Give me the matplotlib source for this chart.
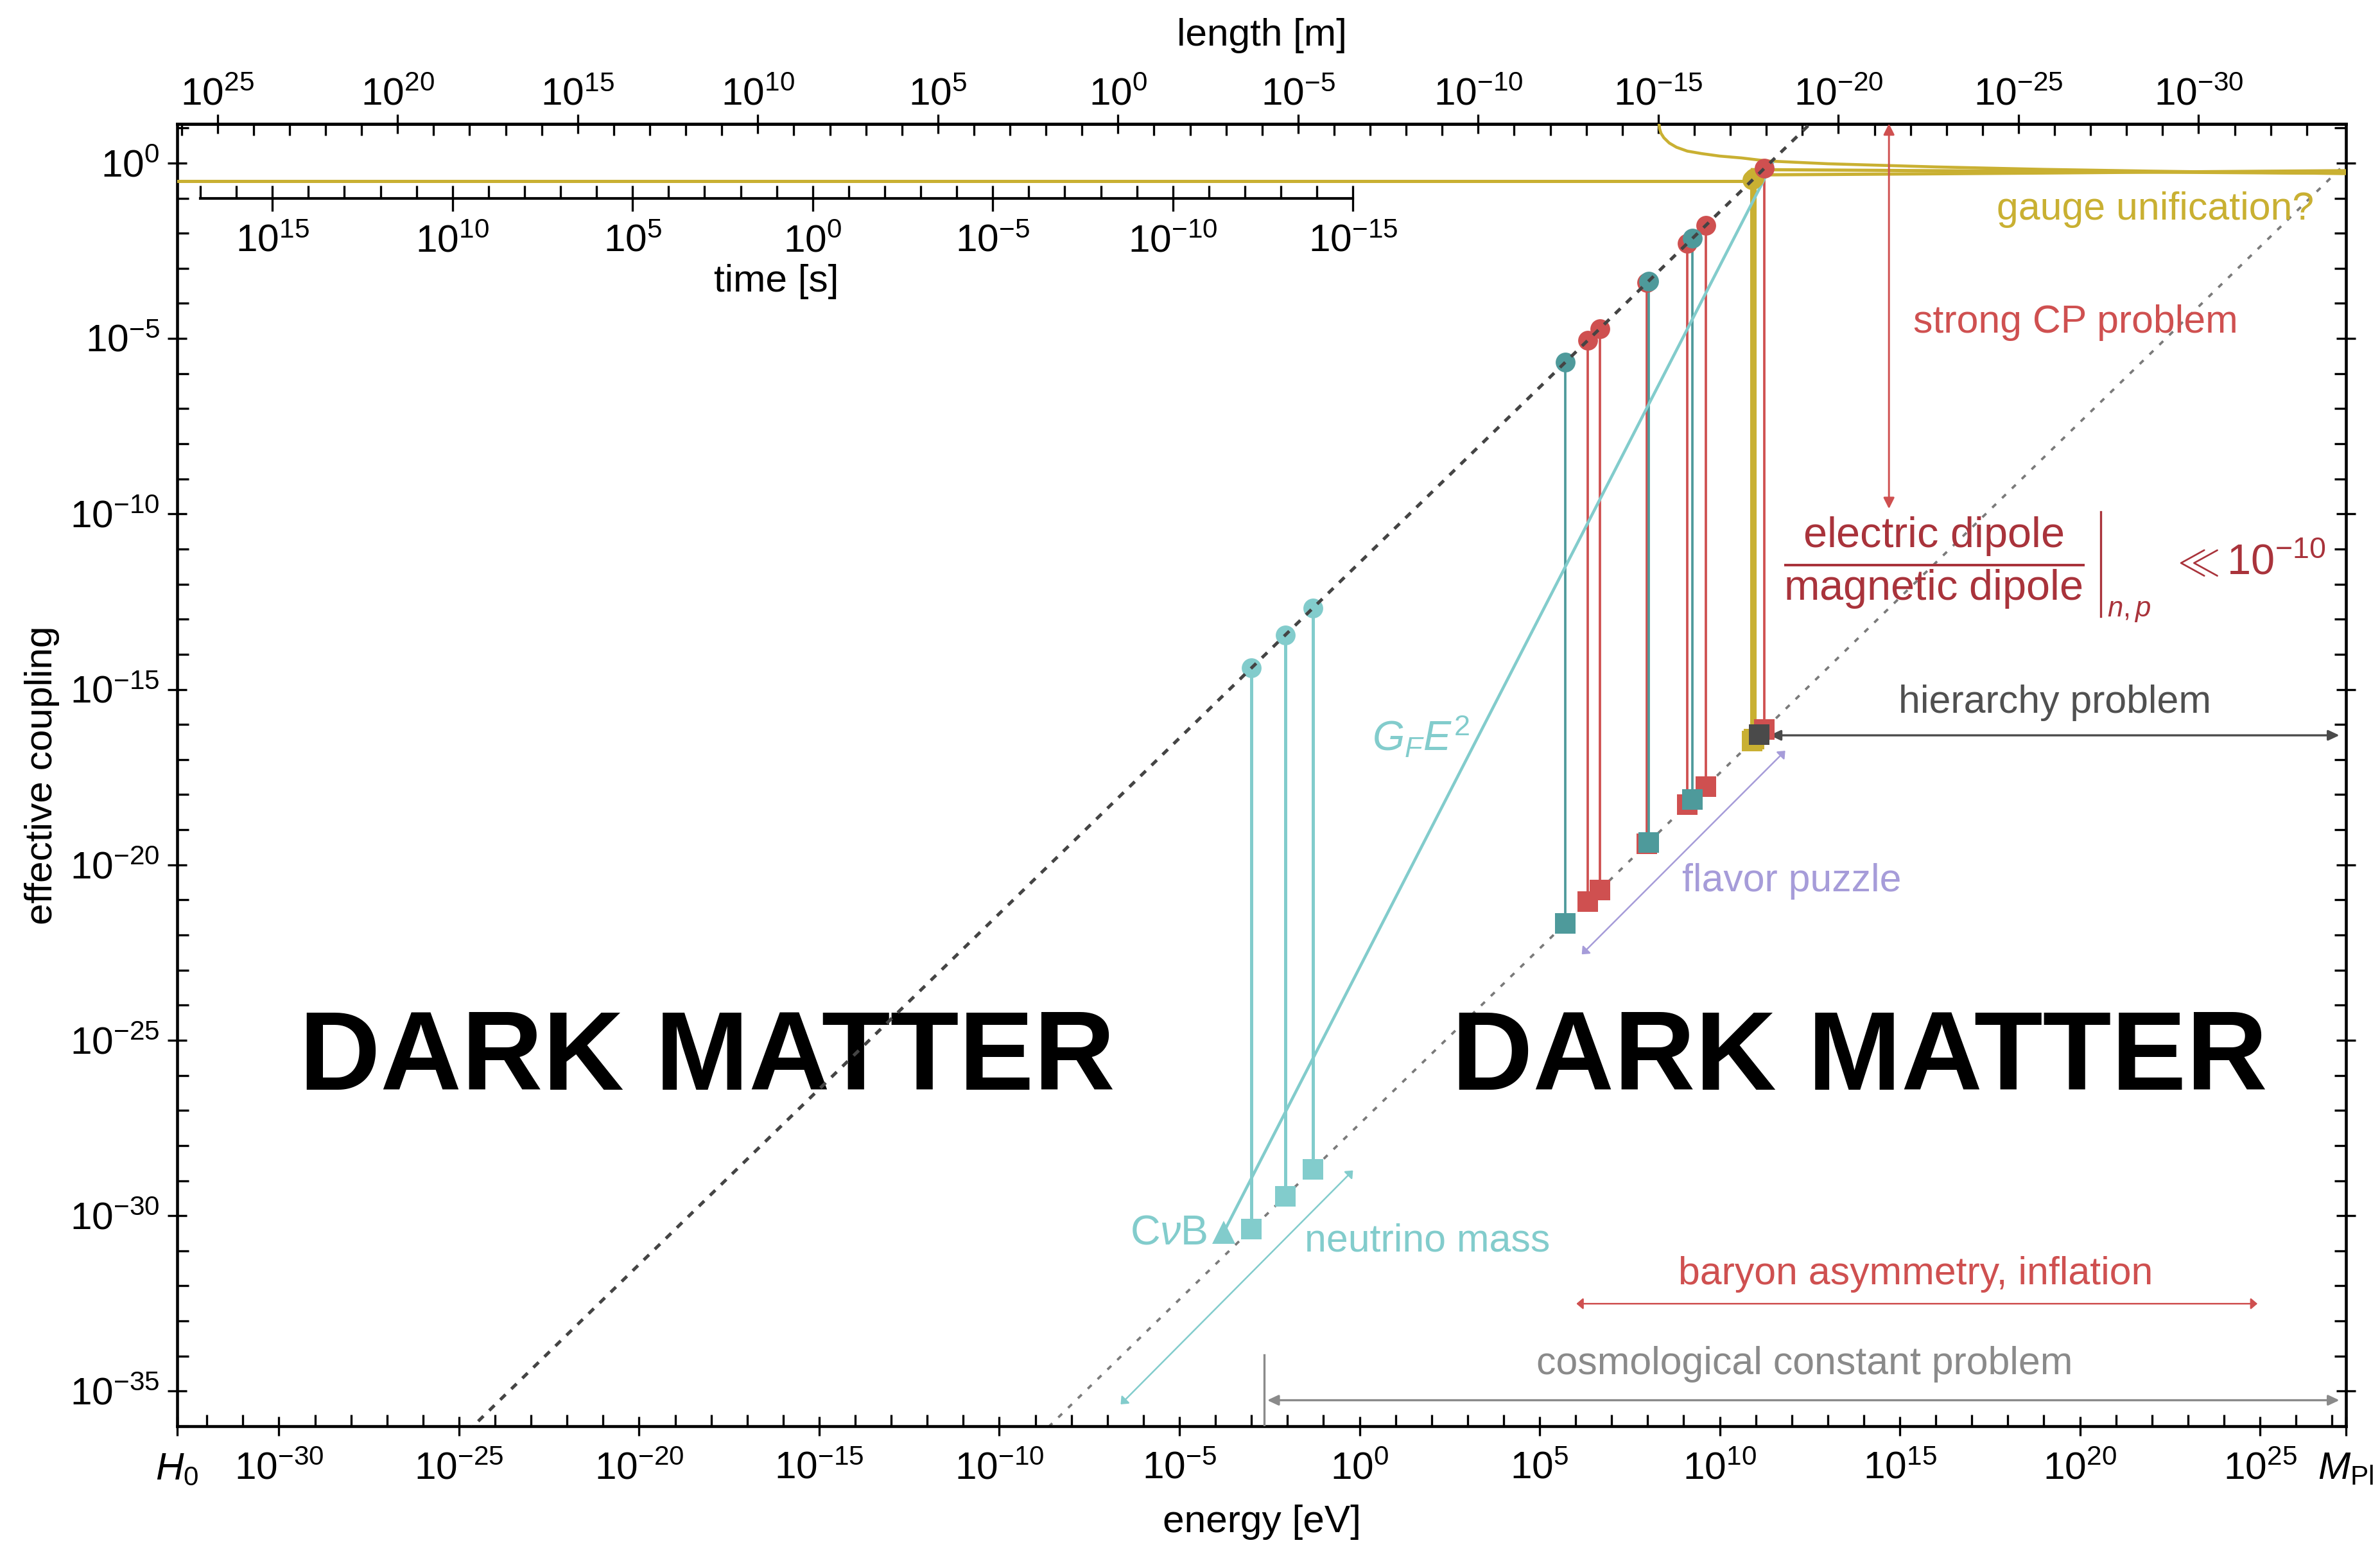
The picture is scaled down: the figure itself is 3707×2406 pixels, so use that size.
import numpy as np
import matplotlib
matplotlib.use('Agg')
import matplotlib.pyplot as plt
from matplotlib.ticker import FixedLocator, NullFormatter

plt.rcParams['font.family'] = ['Liberation Sans', 'DejaVu Sans']
plt.rcParams['mathtext.fontset'] = 'custom'
plt.rcParams['mathtext.rm'] = 'Liberation Sans'
plt.rcParams['mathtext.it'] = 'Liberation Sans:italic'
plt.rcParams['mathtext.bf'] = 'Liberation Sans:bold'
plt.rcParams['mathtext.sf'] = 'Liberation Sans'

# ---------------- data (energies in eV) ----------------
E_H0 = 1.5e-33
E_MPL = 2.435e27
C_MIN, C_MAX = 1.0e-36, 13.3
HBAR_C = 1.9733e-7   # eV m  (length axis)
HBAR = 6.582e-16     # eV s  (time axis)
T_START, T_END = 1e17, 1e-15
T_AXIS_COUPLING = 0.1

# charged leptons: mass, Yukawa-like coupling, gravitational coupling
lepton_E = [0.511e6, 105.7e6, 1.777e9]
lepton_yuk = [2.08e-6, 4.30e-4, 7.22e-3]
lepton_grav = [2.10e-22, 4.34e-20, 7.30e-19]
# quarks
quark_E = [2.2e6, 4.7e6, 95e6, 1.27e9, 4.18e9, 172.7e9]
quark_yuk = [8.9e-6, 1.91e-5, 3.86e-4, 5.16e-3, 1.70e-2, 0.702]
quark_grav = [9.0e-22, 1.93e-21, 3.90e-20, 5.22e-19, 1.72e-18, 7.09e-17]
# neutrinos
nu_E = [1.0e-3, 8.6e-3, 5.0e-2]
nu_yuk = [4.07e-15, 3.50e-14, 2.03e-13]
nu_grav = [4.11e-31, 3.53e-30, 2.05e-29]
# W, Z bosons
wz_E = [80.4e9, 91.2e9]
wz_yuk = [0.327, 0.371]
wz_grav = [3.30e-17, 3.75e-17]
# Higgs
higgs_E = [125.1e9]
higgs_grav = [5.14e-17]
# cosmic neutrino background
cnub_E = [1.68e-4]
cnub_c = [3.3e-31]
# Fermi interaction G_F E^2
gf_E = [1.68e-4, 2.93e11]
gf_c = [3.3e-31, 1.0]
# guide lines E/v and E/M_Pl
ev_E = [1e-26, 1e14]
ev_c = [4.07e-38, 407.0]
emp_E = [1e-10, 1e28]
emp_c = [4.1e-38, 4.1]
# electromagnetic coupling below the EW scale
em_E = [1.5e-33, 80.4e9]
em_c = [0.303, 0.303]
# running gauge couplings
g1_E = [80.4e9, 1e13, 1e16, 1e19, 1e22, 1e25, 2.435e27]
g1_c = [0.460, 0.473, 0.495, 0.521, 0.552, 0.582, 0.605]
g2_E = [80.4e9, 1e13, 1e16, 1e19, 1e22, 1e25, 2.435e27]
g2_c = [0.650, 0.631, 0.605, 0.579, 0.553, 0.528, 0.511]
g3_E = [2.06e8, 2.14e8, 2.34e8, 2.82e8, 3.98e8, 6.31e8, 1.26e9, 3.16e9, 1e10,
        3.98e10, 2.0e11, 1e13, 1e16, 1e19, 1e22, 1e25, 2.435e27]
g3_c = [13.5, 9.55, 7.08, 5.25, 3.72, 2.82, 2.19, 1.86, 1.58,
        1.40, 1.15, 0.955, 0.776, 0.661, 0.589, 0.537, 0.501]

# arrows
strongcp_E = [5.0e14, 5.0e14]
strongcp_c = [13.3, 1.4e-10]
hier_E = [2.45e11, 1.6e27]
hier_c = [4.9e-17, 4.9e-17]
cosmo_E = [2.75e-3, 1.6e27]
cosmo_c = [5.5e-36, 5.5e-36]
cosmo_mark_E = [2.24e-3, 2.24e-3]
cosmo_mark_c = [1.0e-36, 1.07e-34]
flavor_E = [1.48e6, 6.6e11]
flavor_c = [2.8e-23, 1.78e-17]
numass_E = [2.34e-7, 0.66]
numass_c = [4.2e-36, 1.95e-29]
baryon_E = [1.05e6, 8.5e24]
baryon_c = [3.1e-33, 3.1e-33]
# evaluation bar of the dipole ratio
dipole_bar_E = [3.8e20, 3.8e20]
dipole_bar_c = [1.15e-10, 1.2e-13]

# ---------------- colors ----------------
C_TEAL = '#4E9A9B'
C_LTEAL = '#82CCCC'
C_RED = '#CF5050'
C_GOLD = '#C9B032'
C_DGRAY = '#4A4A4A'
C_LAV = '#A69CD9'
C_DRED = '#A9333B'
C_GRAY = '#8A8A8A'

fig = plt.figure(figsize=(3707 / 300, 2406 / 300), dpi=300)
ax = fig.add_axes([0.07445, 0.07689, 0.91125, 0.8431])
ax.set_xscale('log')
ax.set_yscale('log')
ax.set_xlim(E_H0, E_MPL)
ax.set_ylim(C_MIN, C_MAX)

# guide lines
ax.plot(emp_E, emp_c, color='#7A7A7A', lw=0.9, ls=(0, (2.2, 3.5)), zorder=2)
ax.plot(ev_E, ev_c, color='#444444', lw=1.2, ls=(0, (2.3, 2.5)), zorder=6)

# gauge couplings
ax.plot(em_E, em_c, color=C_GOLD, lw=1.2, zorder=3)
ax.plot(g1_E, g1_c, color=C_GOLD, lw=1.2, zorder=3)
ax.plot(g2_E, g2_c, color=C_GOLD, lw=1.2, zorder=3)
ax.plot(g3_E, g3_c, color=C_GOLD, lw=1.1, zorder=3)

# vertical connectors
for E, a, b in zip(quark_E, quark_yuk, quark_grav):
    ax.plot([E, E], [a, b], color=C_RED, lw=0.9, zorder=3)
for E, a, b in zip(lepton_E, lepton_yuk, lepton_grav):
    ax.plot([E, E], [a, b], color=C_TEAL, lw=0.9, zorder=3.1)
for E, a, b in zip(nu_E, nu_yuk, nu_grav):
    ax.plot([E, E], [a, b], color=C_LTEAL, lw=1.2, zorder=3)
for E, a, b in zip(wz_E, wz_yuk, wz_grav):
    ax.plot([E, E], [a, b], color=C_GOLD, lw=1.7, zorder=3)

# G_F E^2
ax.plot(gf_E, gf_c, color=C_LTEAL, lw=1.1, zorder=4)

# markers
ms_c, ms_s = 7.4, 7.8
ax.plot(quark_E, quark_yuk, 'o', ms=ms_c, color=C_RED, mec='none', zorder=5)
ax.plot(quark_E, quark_grav, 's', ms=ms_s, color=C_RED, mec='none', zorder=5)
ax.plot(lepton_E, lepton_yuk, 'o', ms=ms_c, color=C_TEAL, mec='none', zorder=5.1)
ax.plot(lepton_E, lepton_grav, 's', ms=ms_s, color=C_TEAL, mec='none', zorder=5.1)
ax.plot(nu_E, nu_yuk, 'o', ms=ms_c, color=C_LTEAL, mec='none', zorder=5)
ax.plot(nu_E, nu_grav, 's', ms=ms_s, color=C_LTEAL, mec='none', zorder=5)
ax.plot(wz_E, wz_yuk, 'o', ms=ms_c, color=C_GOLD, mec='none', zorder=4.9)
ax.plot(wz_E, wz_grav, 's', ms=ms_s, color=C_GOLD, mec='none', zorder=4.9)
ax.plot(higgs_E, higgs_grav, 's', ms=ms_s, color=C_DGRAY, mec='none', zorder=5.2)
ax.plot(cnub_E, cnub_c, '^', ms=8.5, color=C_LTEAL, mec='none', zorder=5)


def darrow(xs, ys, color, lw, hl, hw, ms=10, z=4):
    ax.annotate('', xy=(xs[1], ys[1]), xytext=(xs[0], ys[0]),
                arrowprops=dict(arrowstyle=f'<|-|>,head_length={hl},head_width={hw}',
                                color=color, lw=lw, shrinkA=0, shrinkB=0,
                                mutation_scale=ms),
                zorder=z)


darrow(strongcp_E, strongcp_c, C_RED, 0.7, 0.34, 0.17)
darrow(hier_E, hier_c, C_DGRAY, 0.8, 0.34, 0.16)
darrow(cosmo_E, cosmo_c, C_GRAY, 0.8, 0.34, 0.16)
ax.plot(cosmo_mark_E, cosmo_mark_c, color=C_GRAY, lw=0.8, zorder=4)
darrow(flavor_E, flavor_c, C_LAV, 0.6, 0.2, 0.17)
darrow(numass_E, numass_c, C_LTEAL, 0.6, 0.2, 0.17)
darrow(baryon_E, baryon_c, C_RED, 0.6, 0.2, 0.17)

# texts
fs = 14.6
ax.text(1.23e22, 0.0245, 'gauge unification?', color=C_GOLD, fontsize=fs, ha='center', va='baseline')
ax.text(7.6e19, 1.48e-5, 'strong CP problem', color=C_RED, fontsize=fs, ha='center', va='baseline')
ax.text(2.04e19, 2.14e-16, 'hierarchy problem', color='#505050', fontsize=fs, ha='center', va='baseline')
ax.text(1.02e12, 1.74e-21, 'flavor puzzle', color=C_LAV, fontsize=fs, ha='center', va='baseline')
ax.text(77.6, 9.8e-32, 'neutrino mass', color=C_LTEAL, fontsize=fs, ha='center', va='baseline')
ax.text(6.0e-5, 1.55e-31, r'C$\nu$B', color=C_LTEAL, fontsize=15.5, ha='right', va='baseline')
ax.text(51, 1.7e-17, r'$G_F E^2$', color=C_LTEAL, fontsize=15.5, ha='center', va='baseline')
ax.text(2.8e15, 1.1e-32, 'baryon asymmetry, inflation', color=C_RED, fontsize=fs, ha='center', va='baseline')
ax.text(2.3e12, 3.0e-35, 'cosmological constant problem', color=C_GRAY, fontsize=fs, ha='center', va='baseline')
# dipole ratio expression
ax.text(8.9e15, 3.95e-12,
        r'$\dfrac{\mathrm{electric\ dipole}}{\mathrm{magnetic\ dipole}}$',
        color=C_DRED, fontsize=16, ha='center', va='center')
ax.plot(dipole_bar_E, dipole_bar_c, color=C_DRED, lw=0.8, zorder=4)
ax.text(5.7e20, 1.2e-13, r'$n,p$', color=C_DRED, fontsize=10.5, ha='left', va='baseline')
ax.text(3.2e22, 1.86e-12, r'$\ll 10^{-10}$', color=C_DRED, fontsize=16, ha='left', va='baseline')
ax.text(7.6e-19, 3.9e-27, 'DARK MATTER', fontsize=42, fontweight='bold', ha='center', va='baseline', color='black')
ax.text(7.6e13, 3.9e-27, 'DARK MATTER', fontsize=42, fontweight='bold', ha='center', va='baseline', color='black')

# ---------------- axes styling ----------------
for s in ax.spines.values():
    s.set_linewidth(1.1)

xmaj = [10.0 ** k for k in range(-30, 26, 5)]
xlabels = [r'$10^{%d}$' % k for k in range(-30, 26, 5)]
ax.set_xticks([E_H0] + xmaj + [E_MPL], labels=[r'$H_0$'] + xlabels + [r'$M_{\mathrm{Pl}}$'])
ax.xaxis.set_minor_locator(FixedLocator([10.0 ** k for k in range(-32, 28)]))
ax.xaxis.set_minor_formatter(NullFormatter())
ymaj = [10.0 ** k for k in range(-35, 1, 5)]
ax.set_yticks(ymaj, labels=[r'$10^{%d}$' % k for k in range(-35, 1, 5)])
ax.yaxis.set_minor_locator(FixedLocator([10.0 ** k for k in range(-36, 2)]))
ax.yaxis.set_minor_formatter(NullFormatter())
ax.tick_params(which='major', direction='inout', length=7, width=0.8, labelsize=14.5,
               top=False, right=True, pad=3)
ax.tick_params(axis='x', which='major', pad=6)
ax.tick_params(which='minor', direction='in', length=4.4, width=0.8, top=False, right=True)
ax.set_xlabel('energy [eV]', fontsize=14.5, labelpad=6.5)
ax.set_ylabel('effective coupling', fontsize=14.5, labelpad=4)

# length axis on top
sec = ax.secondary_xaxis('top', functions=(lambda E: HBAR_C / np.asarray(E, float),
                                           lambda L: HBAR_C / np.asarray(L, float)))
lmaj = [10.0 ** k for k in range(25, -31, -5)]
sec.set_xticks(lmaj, labels=[r'$10^{%d}$' % k for k in range(25, -31, -5)])
sec.xaxis.set_minor_locator(FixedLocator([10.0 ** k for k in range(-33, 27)]))
sec.xaxis.set_minor_formatter(NullFormatter())
sec.tick_params(which='major', direction='inout', length=7, width=0.8, labelsize=14.5, pad=0.5)
sec.tick_params(which='minor', direction='in', length=4.4, width=0.8)
sec.spines['top'].set_linewidth(1.1)
sec.set_xlabel('length [m]', fontsize=14.5, labelpad=12)

# time axis inset
lx0, lx1 = np.log10(E_H0), np.log10(E_MPL)
ly0, ly1 = np.log10(C_MIN), np.log10(C_MAX)
fx0 = (np.log10(HBAR / T_START) - lx0) / (lx1 - lx0)
fx1 = (np.log10(HBAR / T_END) - lx0) / (lx1 - lx0)
fy = (np.log10(T_AXIS_COUPLING) - ly0) / (ly1 - ly0)
tax = ax.inset_axes([fx0, fy, fx1 - fx0, 0.02])
tax.set_facecolor('none')
for k in ['top', 'left', 'right']:
    tax.spines[k].set_visible(False)
tax.spines['bottom'].set_linewidth(1.0)
tax.set_yticks([])
tax.set_xscale('log')
tax.set_xlim(T_START, T_END)
tmaj = [10.0 ** k for k in range(15, -16, -5)]
tax.set_xticks(tmaj, labels=[r'$10^{%d}$' % k for k in range(15, -16, -5)])
tax.xaxis.set_minor_locator(FixedLocator([10.0 ** k for k in range(-15, 18)]))
tax.xaxis.set_minor_formatter(NullFormatter())
tax.tick_params(which='major', direction='inout', length=9.6, width=0.8, labelsize=14.5, pad=5)
tax.tick_params(which='minor', direction='in', length=4.8, width=0.8)
tax.set_xlabel('time [s]', fontsize=14.5, labelpad=1.5)

fig.savefig('out.png', dpi=300)
